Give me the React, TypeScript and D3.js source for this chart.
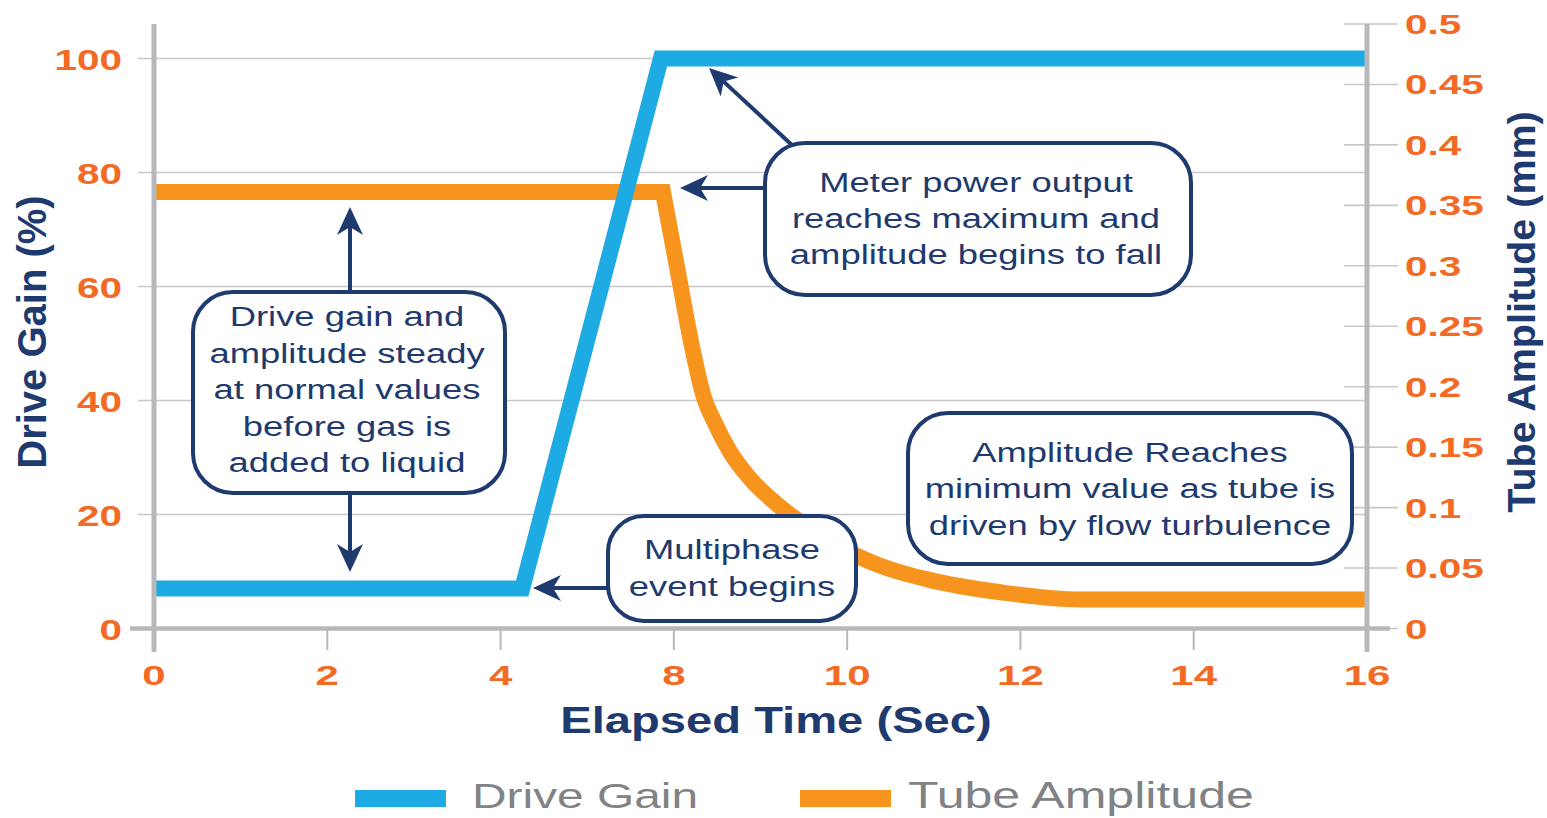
import React from 'react';
import * as d3 from 'd3';

// x axis labels (the chart skips 6, ticks are evenly spaced)
const timeTicks = [0, 2, 4, 8, 10, 12, 14, 16];
const gainTicks = [0, 20, 40, 60, 80, 100];
const ampTicks = [0, 0.05, 0.1, 0.15, 0.2, 0.25, 0.3, 0.35, 0.4, 0.45, 0.5];

// Drive Gain (%) - left axis
const driveGainTime = [0, 4.5, 7.7, 16];
const driveGainValue = [7, 7, 100, 100];

// Tube Amplitude (mm) - right axis
const tubeAmpTime = [0, 7.75, 8.07, 8.21, 8.34, 8.48, 8.65, 8.88, 9.17, 9.52, 9.92, 10.38, 10.96, 11.77, 12.69, 13.5, 16];
const tubeAmpValue = [0.361, 0.361, 0.286, 0.233, 0.193, 0.169, 0.146, 0.124, 0.104, 0.085, 0.067, 0.052, 0.04, 0.03, 0.024, 0.024, 0.024];

const legendItems = ['Drive Gain', 'Tube Amplitude'];

const W = 1547;
const H = 818;
const X0 = 154;
const X1 = 1367;
const BASE = 628.5;

const BLUE = '#1eaae2';
const ORANGE = '#f7941d';
const LABEL = '#f26a24';
const NAVY = '#1f3a6e';
const GRID = '#c8c8c8';
const AXIS = '#b6b8ba';
const FONT = '"Liberation Sans", Arial, sans-serif';

const xScale = d3.scaleLinear()
  .domain(timeTicks)
  .range(timeTicks.map((_, i) => X0 + (i * (X1 - X0)) / (timeTicks.length - 1)));
const yLeft = d3.scaleLinear().domain([0, 100]).range([BASE, 58.5]);
const yRight = d3.scaleLinear().domain([0, 0.5]).range([BASE, 24]);

// text in the original is stretched sideways, so scale it on x
function SText({ x, y, sx = 1.3, anchor = 'middle', size, weight = 'normal', fill, children }: any) {
  return (
    <text
      transform={`translate(${x},${y}) scale(${sx},1)`}
      textAnchor={anchor}
      fontFamily={FONT}
      fontSize={size}
      fontWeight={weight}
      fill={fill}
    >
      {children}
    </text>
  );
}

function Arrow({ x1, y1, x2, y2 }: any) {
  const a = Math.atan2(y2 - y1, x2 - x1);
  const len = 28, hw = 13, notch = 8;
  const ex = x2 - Math.cos(a) * (len - notch);
  const ey = y2 - Math.sin(a) * (len - notch);
  return (
    <g>
      <line x1={x1} y1={y1} x2={ex} y2={ey} stroke={NAVY} strokeWidth={4} />
      <path
        d={`M0,0 L${-len},${-hw} L${-(len - notch)},0 L${-len},${hw} Z`}
        fill={NAVY}
        transform={`translate(${x2},${y2}) rotate(${(a * 180) / Math.PI})`}
      />
    </g>
  );
}

function Callout({ x, y, w, h, r = 40, lines, cx, baselines }: any) {
  return (
    <g>
      <rect x={x} y={y} width={w} height={h} rx={r} ry={r} fill="#fff" stroke={NAVY} strokeWidth={4} />
      {lines.map((t: string, i: number) => (
        <SText key={i} x={cx} y={baselines[i]} size={28} fill={NAVY}>{t}</SText>
      ))}
    </g>
  );
}

export default function App() {
  const gainLine = d3.line<number>()
    .x((_, i) => xScale(driveGainTime[i]))
    .y((d) => yLeft(d))
    .curve(d3.curveLinear);

  // flat part straight, the decay smooth, joined into one path for the sharp shoulder
  const decay = d3.line<number>()
    .x((_, i) => xScale(tubeAmpTime[i + 1]))
    .y((d) => yRight(d))
    .curve(d3.curveMonotoneX)(tubeAmpValue.slice(1)) || '';
  const ampPath = `M${xScale(tubeAmpTime[0])},${yRight(tubeAmpValue[0])}L` + decay.slice(1);

  return (
    <svg width={W} height={H} style={{ position: 'absolute', left: 0, top: 0, background: '#fff' }}>
      {/* gridlines for the left axis */}
      {gainTicks.filter((v) => v > 0).map((v) => (
        <line key={v} x1={138} x2={X1} y1={yLeft(v)} y2={yLeft(v)} stroke={GRID} strokeWidth={1.6} />
      ))}
      {/* right axis ticks */}
      {ampTicks.map((v) => (
        <line key={v} x1={1344} x2={1398} y1={yRight(v)} y2={yRight(v)} stroke={GRID} strokeWidth={1.6} />
      ))}
      {/* x ticks */}
      {timeTicks.map((t) => (
        <line key={t} x1={xScale(t)} x2={xScale(t)} y1={BASE} y2={650} stroke={AXIS} strokeWidth={2} />
      ))}

      {/* series */}
      <path d={ampPath} fill="none" stroke={ORANGE} strokeWidth={16} strokeLinejoin="miter" />
      <path d={gainLine(driveGainValue) || ''} fill="none" stroke={BLUE} strokeWidth={16} strokeLinejoin="miter" />

      {/* axis lines */}
      <line x1={130} x2={1390} y1={BASE} y2={BASE} stroke={AXIS} strokeWidth={4.5} />
      <line x1={X0} x2={X0} y1={24} y2={652} stroke={AXIS} strokeWidth={5} />
      <line x1={X1} x2={X1} y1={24} y2={652} stroke={AXIS} strokeWidth={5} />

      {/* tick labels */}
      {gainTicks.map((v) => (
        <SText key={v} x={122} y={yLeft(v) + 11} anchor="end" size={30} sx={1.35} weight="bold" fill={LABEL}>{v}</SText>
      ))}
      {ampTicks.map((v) => (
        <SText key={v} x={1405} y={yRight(v) + 10} anchor="start" size={27} sx={1.5} weight="bold" fill={LABEL}>{String(v)}</SText>
      ))}
      {timeTicks.map((t) => (
        <SText key={t} x={xScale(t)} y={685} size={28} sx={1.5} weight="bold" fill={LABEL}>{t}</SText>
      ))}

      {/* axis titles */}
      <SText x={776} y={733} size={36} sx={1.31} weight="bold" fill={NAVY}>Elapsed Time (Sec)</SText>
      <text transform="translate(46,332) rotate(-90)" textAnchor="middle" fontFamily={FONT} fontSize={40} fontWeight="bold" fill={NAVY}>Drive Gain (%)</text>
      <text transform="translate(1535,312) rotate(-90)" textAnchor="middle" fontFamily={FONT} fontSize={39.5} fontWeight="bold" fill={NAVY}>Tube Amplitude (mm)</text>

      {/* callouts */}
      <Arrow x1={350} y1={292} x2={350} y2={207} />
      <Arrow x1={350} y1={493} x2={350} y2={572} />
      <Callout x={193} y={292} w={312} h={201} cx={347}
        lines={['Drive gain and', 'amplitude steady', 'at normal values', 'before gas is', 'added to liquid']}
        baselines={[326, 362.5, 399, 435.5, 472]} />

      <Arrow x1={793} y1={146} x2={709} y2={68} />
      <Arrow x1={765} y1={188} x2={680} y2={188} />
      <Callout x={765} y={143} w={426} h={152} cx={976}
        lines={['Meter power output', 'reaches maximum and', 'amplitude begins to fall']}
        baselines={[192, 228, 264]} />

      <Arrow x1={608} y1={588} x2={533} y2={588} />
      <Callout x={608} y={516} w={248} h={105} r={36} cx={732}
        lines={['Multiphase', 'event begins']}
        baselines={[559, 596]} />

      <Callout x={908} y={413} w={444} h={151} cx={1130}
        lines={['Amplitude Reaches', 'minimum value as tube is', 'driven by flow turbulence']}
        baselines={[462, 498, 535]} />

      {/* legend */}
      <rect x={355} y={790} width={91} height={17} fill={BLUE} />
      <SText x={472} y={808} anchor="start" size={36} sx={1.33} fill="#808285">{legendItems[0]}</SText>
      <rect x={800} y={790} width={91} height={17} fill={ORANGE} />
      <SText x={908} y={808} anchor="start" size={36} sx={1.39} fill="#808285">{legendItems[1]}</SText>
    </svg>
  );
}
